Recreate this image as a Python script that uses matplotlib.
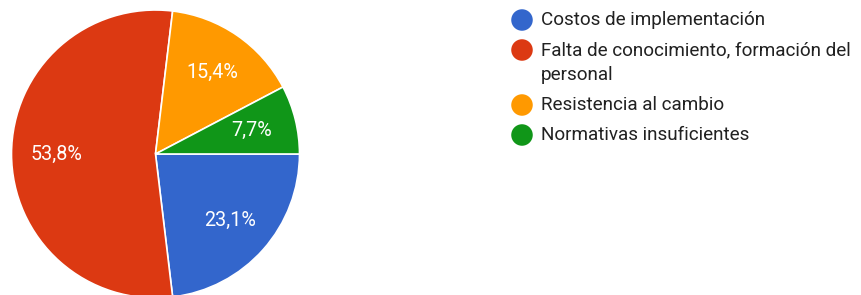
import matplotlib
matplotlib.use("Agg")
import matplotlib.pyplot as plt

categories = ["Costos de implementación",
              "Falta de conocimiento, formación del\npersonal",
              "Resistencia al cambio",
              "Normativas insuficientes"]
values = [23.1, 53.8, 15.4, 7.7]
colors = ["#3366CC", "#DC3912", "#FF9900", "#109618"]

plt.rcParams['font.family'] = ['Roboto', 'DejaVu Sans']

W, H = 861, 295
fig = plt.figure(figsize=(W / 100, H / 100), dpi=100)

cx, cy, r = 155.5, 154, 144
ax = fig.add_axes([(cx - r) / W, (H - cy - r) / H, 2 * r / W, 2 * r / H])
wedges, texts, autotexts = ax.pie(
    values, colors=colors, startangle=0, counterclock=False,
    autopct=lambda p: f"{p:.1f}".replace(".", ",") + "%",
    pctdistance=0.69, radius=1,
    wedgeprops=dict(edgecolor="white", linewidth=1.2),
    textprops=dict(color="white", fontsize=14.2))
ax.set_xlim(-1, 1)
ax.set_ylim(-1, 1)
ax.set_aspect("equal")
ax.axis("off")

# legend
lax = fig.add_axes([0, 0, 1, 1])
lax.set_xlim(0, W)
lax.set_ylim(H, 0)
lax.axis("off")
y = 20
for lab, col in zip(categories, colors):
    lax.scatter([522], [y], s=240, color=col, edgecolors="none")
    lines = lab.split("\n")
    for i, line in enumerate(lines):
        lax.text(541, y + 25 * i, line, fontsize=13.6, color="#212121", va="center")
    y += 30 + 25 * (len(lines) - 1)

fig.savefig("out.png", dpi=100)
